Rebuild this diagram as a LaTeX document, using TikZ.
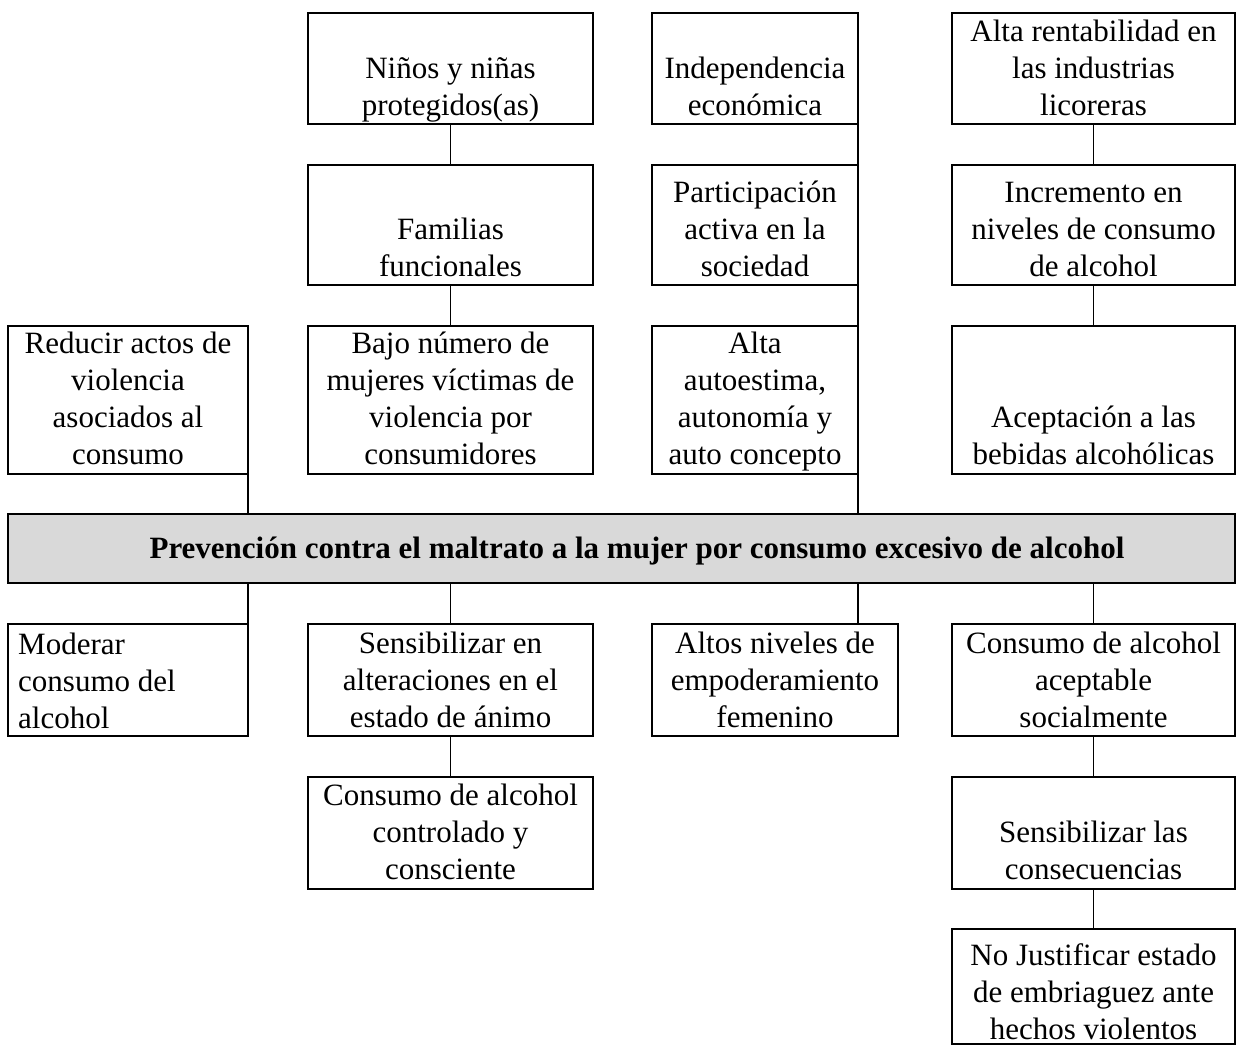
\documentclass[tikz,border=0pt]{standalone}
\usepackage{fontspec}
\setmainfont{Liberation Serif}
\newcommand\ctxtbox[1]{\parbox[t]{330pt}{\centering\fontsize{31}{37}\selectfont #1}}
\newcommand\ltxtbox[1]{\parbox[t]{230pt}{\raggedright\fontsize{31}{37}\selectfont #1}}
\begin{document}
\begin{tikzpicture}[x=1pt,y=-1pt,
  box/.style={draw, line width=1.3pt, rectangle, inner sep=0pt, outer sep=0pt, anchor=north west},
  txt/.style={anchor=base, inner sep=0pt},
  ltxt/.style={anchor=base west, inner sep=0pt},
  conn/.style={line width=1.3pt}]
\useasboundingbox (0,0) rectangle (1236,1045);
% top boxes
\node[box, minimum width=240pt, minimum height=148pt] (red) at (8,326) {};
\node[box, minimum width=285pt, minimum height=111pt] (nin) at (308,13) {};
\node[box, minimum width=285pt, minimum height=120pt] (fam) at (308,165) {};
\node[box, minimum width=285pt, minimum height=148pt] (baj) at (308,326) {};
\node[box, minimum width=206pt, minimum height=111pt] (ind) at (652,13) {};
\node[box, minimum width=206pt, minimum height=120pt] (par) at (652,165) {};
\node[box, minimum width=206pt, minimum height=148pt] (alt) at (652,326) {};
\node[box, minimum width=283pt, minimum height=111pt] (ren) at (952,13) {};
\node[box, minimum width=283pt, minimum height=120pt] (inc) at (952,165) {};
\node[box, minimum width=283pt, minimum height=148pt] (ace) at (952,326) {};
% central bar
\node[box, fill=black!15, minimum width=1227pt, minimum height=69pt] (bar) at (8,514) {};
% bottom boxes
\node[box, minimum width=240pt, minimum height=112pt] (mod) at (8,624) {};
\node[box, minimum width=285pt, minimum height=112pt] (sen) at (308,624) {};
\node[box, minimum width=285pt, minimum height=112pt] (con) at (308,777) {};
\node[box, minimum width=246pt, minimum height=112pt] (emp) at (652,624) {};
\node[box, minimum width=283pt, minimum height=112pt] (soc) at (952,624) {};
\node[box, minimum width=283pt, minimum height=112pt] (cns) at (952,777) {};
\node[box, minimum width=283pt, minimum height=115pt] (jus) at (952,929) {};
% texts
\node[txt] (t-red) at (128,353) {\ctxtbox{Reducir actos de\\violencia\\asociados al\\consumo}};
\node[txt] (t-nin) at (450.5,78) {\ctxtbox{Niños y niñas\\protegidos(as)}};
\node[txt] (t-fam) at (450.5,239) {\ctxtbox{Familias\\funcionales}};
\node[txt] (t-baj) at (450.5,353) {\ctxtbox{Bajo número de\\mujeres víctimas de\\violencia por\\consumidores}};
\node[txt] (t-ind) at (755,78) {\ctxtbox{Independencia\\económica}};
\node[txt] (t-par) at (755,202) {\ctxtbox{Participación\\activa en la\\sociedad}};
\node[txt] (t-alt) at (755,353) {\ctxtbox{Alta\\autoestima,\\autonomía y\\auto concepto}};
\node[txt] (t-ren) at (1093.5,41) {\ctxtbox{Alta rentabilidad en\\las industrias\\licoreras}};
\node[txt] (t-inc) at (1093.5,202) {\ctxtbox{Incremento en\\niveles de consumo\\de alcohol}};
\node[txt] (t-ace) at (1093.5,427) {\ctxtbox{Aceptación a las\\bebidas alcohólicas}};
\node[txt] (t-bar) at (637,558) {\fontsize{31}{37}\selectfont\bfseries Prevención contra el maltrato a la mujer por consumo excesivo de alcohol};
\node[ltxt] (t-mod) at (18,654) {\ltxtbox{Moderar\\consumo del\\alcohol}};
\node[txt] (t-sen) at (450.5,653) {\ctxtbox{Sensibilizar en\\alteraciones en el\\estado de ánimo}};
\node[txt] (t-con) at (450.5,805) {\ctxtbox{Consumo de alcohol\\controlado y\\consciente}};
\node[txt] (t-emp) at (775,653) {\ctxtbox{Altos niveles de\\empoderamiento\\femenino}};
\node[txt] (t-soc) at (1093.5,653) {\ctxtbox{Consumo de alcohol\\aceptable\\socialmente}};
\node[txt] (t-cns) at (1093.5,842) {\ctxtbox{Sensibilizar las\\consecuencias}};
\node[txt] (t-jus) at (1093.5,965) {\ctxtbox{No Justificar estado\\de embriaguez ante\\hechos violentos}};
% connectors
\draw[conn] (red.south east) -- (bar.north -| red.east);
\draw[conn] (bar.south -| red.east) -- (mod.north east);
\draw[conn] (nin.south) -- (fam.north);
\draw[conn] (fam.south) -- (baj.north);
\draw[conn] (bar.south -| sen.north) -- (sen.north);
\draw[conn] (sen.south) -- (con.north);
\draw[conn] (ind.south east) -- (par.north east);
\draw[conn] (par.south east) -- (alt.north east);
\draw[conn] (alt.south east) -- (bar.north -| alt.east);
\draw[conn] (bar.south -| alt.east) -- (emp.north -| alt.east);
\draw[conn] (ren.south) -- (inc.north);
\draw[conn] (inc.south) -- (ace.north);
\draw[conn] (bar.south -| soc.north) -- (soc.north);
\draw[conn] (soc.south) -- (cns.north);
\draw[conn] (cns.south) -- (jus.north);
\end{tikzpicture}
\end{document}
